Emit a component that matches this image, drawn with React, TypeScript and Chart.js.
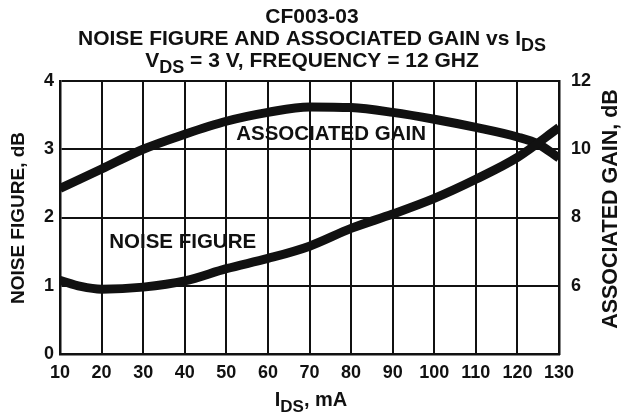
import React, { useEffect, useRef } from 'react';
import { Chart, registerables } from 'chart.js';

Chart.register(...registerables);

// ---- data ----
const nfCurrent = [10, 15, 20, 30, 40, 50, 60, 70, 80, 90, 100, 110, 120, 130];
const noiseFigure = [1.08, 0.99, 0.95, 0.98, 1.07, 1.25, 1.4, 1.58, 1.84, 2.05, 2.28, 2.56, 2.88, 3.32];
const gainCurrent = [10, 20, 30, 40, 50, 60, 70, 80, 90, 100, 110, 120, 125, 130];
const associatedGain = [8.85, 9.42, 10.0, 10.44, 10.82, 11.08, 11.24, 11.22, 11.08, 10.88, 10.64, 10.36, 10.15, 9.74];
const xTicks = [10, 20, 30, 40, 50, 60, 70, 80, 90, 100, 110, 120, 130];
const nfTicks = [0, 1, 2, 3, 4];
const gainTicks = [4, 6, 8, 10, 12];
const gainTickLabels = ['', '6', '8', '10', '12'];

type Part = { t: string; sub?: boolean };
const titleLines: Part[][] = [
  [{ t: 'CF003-03' }],
  [{ t: 'NOISE FIGURE AND ASSOCIATED GAIN vs I' }, { t: 'DS', sub: true }],
  [{ t: 'V' }, { t: 'DS', sub: true }, { t: ' = 3 V, FREQUENCY = 12 GHZ' }],
];
const xTitle: Part[] = [{ t: 'I' }, { t: 'DS', sub: true }, { t: ', mA' }];
const yTitle = 'NOISE FIGURE, dB';
const y1Title = 'ASSOCIATED GAIN, dB';
const gainLabel = { text: 'ASSOCIATED GAIN', x: 75.2, y: 3.22 };
const nfLabel = { text: 'NOISE FIGURE', x: 39.5, y: 1.64 };

const INK = '#111';
const FONT = '"Liberation Sans", Arial, Helvetica, sans-serif';

function drawRich(ctx: CanvasRenderingContext2D, parts: Part[], cx: number, baseline: number, size: number) {
  const subSize = Math.round(size * 0.85);
  const widths = parts.map((p) => {
    ctx.font = `bold ${p.sub ? subSize : size}px ${FONT}`;
    return ctx.measureText(p.t).width;
  });
  const total = widths.reduce((a, b) => a + b, 0);
  let x = cx - total / 2;
  parts.forEach((p, i) => {
    ctx.font = `bold ${p.sub ? subSize : size}px ${FONT}`;
    ctx.fillText(p.t, x, baseline + (p.sub ? size * 0.3 : 0));
    x += widths[i];
  });
}

const textPlugin = {
  id: 'textPlugin',
  afterDraw(chart: any) {
    const ctx: CanvasRenderingContext2D = chart.ctx;
    const { x, y } = chart.scales;
    ctx.save();
    ctx.fillStyle = INK;
    ctx.textAlign = 'left';
    ctx.textBaseline = 'alphabetic';
    // title
    const baselines = [23, 45, 67];
    titleLines.forEach((line, i) => drawRich(ctx, line, 312, baselines[i], 21));
    // x axis title
    drawRich(ctx, xTitle, 311, 406, 20);
    // rotated axis titles
    ctx.textAlign = 'center';
    ctx.textBaseline = 'middle';
    ctx.save();
    ctx.translate(19, 218);
    ctx.rotate(-Math.PI / 2);
    ctx.font = `bold 19px ${FONT}`;
    ctx.fillText(yTitle, 0, 0);
    ctx.restore();
    ctx.save();
    ctx.translate(611, 209);
    ctx.rotate(-Math.PI / 2);
    ctx.font = `bold 21.5px ${FONT}`;
    ctx.fillText(y1Title, 0, 0);
    ctx.restore();
    // curve labels
    ctx.font = `bold 20.5px ${FONT}`;
    ctx.fillText(gainLabel.text, x.getPixelForValue(gainLabel.x), y.getPixelForValue(gainLabel.y));
    ctx.fillText(nfLabel.text, x.getPixelForValue(nfLabel.x), y.getPixelForValue(nfLabel.y));
    ctx.restore();
  },
};

export default function App() {
  const ref = useRef<HTMLCanvasElement | null>(null);
  useEffect(() => {
    if (!ref.current) return;
    const tickFont = (size: number) => ({ family: FONT, size, weight: 'bold' as const });
    const chart = new Chart(ref.current, {
      type: 'line',
      data: {
        datasets: [
          {
            label: 'NOISE FIGURE',
            data: nfCurrent.map((c, i) => ({ x: c, y: noiseFigure[i] })),
            yAxisID: 'y',
            borderColor: INK,
            borderWidth: 9,
            pointRadius: 0,
            cubicInterpolationMode: 'monotone',
            fill: false,
            clip: 0,
          },
          {
            label: 'ASSOCIATED GAIN',
            data: gainCurrent.map((c, i) => ({ x: c, y: associatedGain[i] })),
            yAxisID: 'y1',
            borderColor: INK,
            borderWidth: 9,
            pointRadius: 0,
            cubicInterpolationMode: 'monotone',
            fill: false,
            clip: 0,
          },
        ],
      },
      options: {
        animation: false,
        responsive: false,
        maintainAspectRatio: false,
        layout: { padding: { top: 81, left: 0, right: 0, bottom: 0 }, autoPadding: false } as any,
        plugins: { legend: { display: false }, tooltip: { enabled: false }, title: { display: false } },
        scales: {
          x: {
            type: 'linear',
            min: 10,
            max: 130,
            afterBuildTicks: (s: any) => {
              s.ticks = xTicks.map((v) => ({ value: v }));
            },
            grid: { color: INK, lineWidth: 2, drawTicks: false },
            border: { color: INK, width: 2.5 },
            ticks: { color: INK, font: tickFont(18), padding: 8, maxRotation: 0, autoSkip: false },
            afterFit: (s: any) => {
              s.height = 59;
            },
          },
          y: {
            type: 'linear',
            position: 'left',
            min: 0,
            max: 4,
            afterBuildTicks: (s: any) => {
              s.ticks = nfTicks.map((v) => ({ value: v }));
            },
            grid: { color: INK, lineWidth: 2, drawTicks: false },
            border: { color: INK, width: 2.5 },
            ticks: { color: INK, font: tickFont(18), padding: 6 },
            afterFit: (s: any) => {
              s.width = 60;
            },
          },
          y1: {
            type: 'linear',
            position: 'right',
            min: 4,
            max: 12,
            afterBuildTicks: (s: any) => {
              s.ticks = gainTicks.map((v) => ({ value: v }));
            },
            grid: { drawOnChartArea: false, drawTicks: false },
            border: { color: INK, width: 2.5 },
            ticks: {
              color: INK,
              font: tickFont(18),
              padding: 12,
              callback: (v: any) => gainTickLabels[gainTicks.indexOf(Number(v))] ?? '',
            },
            afterFit: (s: any) => {
              s.width = 63;
            },
          },
        },
      },
      plugins: [textPlugin],
    } as any);
    return () => chart.destroy();
  }, []);
  return (
    <div style={{ position: 'absolute', left: 0, top: 0, width: 622, height: 413, background: '#fff' }}>
      <canvas ref={ref} width={622} height={413} style={{ display: 'block', width: 622, height: 413 }} />
    </div>
  );
}
